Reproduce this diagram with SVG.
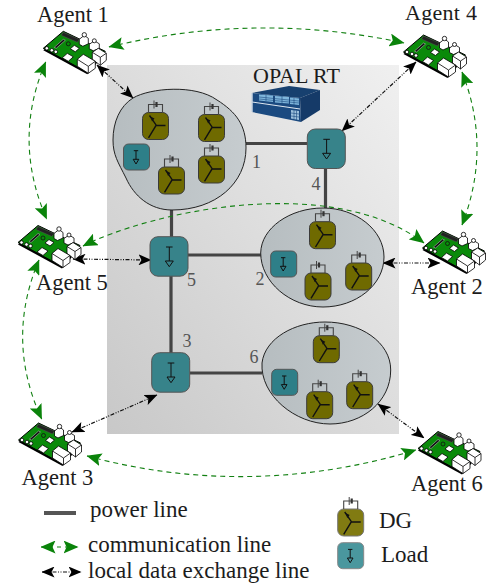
<svg xmlns="http://www.w3.org/2000/svg" xmlns:xlink="http://www.w3.org/1999/xlink" width="491" height="584" viewBox="0 0 491 584">
<style>
text{font-family:"Liberation Serif","Times New Roman",serif;fill:#1c1c1c}
.lab{font-size:22.5px}
.leg{font-size:23px}
.num{font-size:18px;fill:#555}
.pow{fill:none;stroke:#444;stroke-width:3.2}
.com{fill:none;stroke:#128012;stroke-width:1.1;stroke-dasharray:5 4;marker-start:url(#ga);marker-end:url(#ga)}
.dat{fill:none;stroke:#111;stroke-width:1.2;stroke-dasharray:4 1.5 1 1.5 1 1.5;marker-start:url(#ka);marker-end:url(#ka)}
.blob{stroke:#222;stroke-width:1;fill:url(#bg)}
.dgb{fill:#6f6a00;stroke:#3a3a3a;stroke-width:1}
.dl{fill:none;stroke:#111;stroke-width:1}
.tr{fill:none;stroke:#111;stroke-width:1.4}
.bat{fill:none;stroke:#444;stroke-width:1.1}
.lb{fill:#37838a;stroke:#555;stroke-width:1}
.w{fill:#fff;stroke:#000;stroke-width:.8;stroke-linejoin:round}
</style>
<defs>
<linearGradient id="pg" x1="0" y1="1" x2="1" y2="0"><stop offset="0" stop-color="#c8c8c8"/><stop offset="1" stop-color="#f0f0f0"/></linearGradient>
<linearGradient id="bg" x1="0" y1="0" x2="1" y2="0"><stop offset="0" stop-color="#b6bdc0"/><stop offset="1" stop-color="#c6cccf"/></linearGradient>
<marker id="ga" viewBox="0 0 15 13" refX="14.5" refY="6.5" markerWidth="15" markerHeight="13" markerUnits="userSpaceOnUse" orient="auto-start-reverse"><path d="M0,0 L15,6.500 L0,13 L3,6.500 Z" fill="#0a830a"/></marker>
<marker id="ka" viewBox="0 0 13 11" refX="12.5" refY="5.5" markerWidth="13" markerHeight="11" markerUnits="userSpaceOnUse" orient="auto-start-reverse"><path d="M0,0 L13,5.5 L0,11 L3,5.5 Z" fill="#000"/></marker>
<g id="board">
<path d="M0,0 L20,-17 L62,3 L44,24 Z" fill="#000" transform="translate(0,2)"/>
<path d="M0,0 L20,-17 L62,3 L44,24 Z" fill="#0a8a0a" stroke="#000" stroke-width="1"/>
<path d="M20,-16 L36,-9 L34,-6 L18,-13 Z" fill="#222" stroke="#555" stroke-width=".5"/>
<path d="M11,-1 L20,-9 L22,-8 L13,0 Z" fill="#111" stroke="#ccc" stroke-width=".5"/>
<path d="M27,0.5 L31,-3 L36,0 L32,3.5 Z" class="w"/>
<path d="M19,9.5 L24,5 L30,8.5 L25,13 Z" class="w"/>
<circle cx="25" cy="-4.5" r="2" fill="none" stroke="#111" stroke-width=".8"/>
<circle cx="3.5" cy="0" r="1.8" class="w"/><circle cx="8.5" cy="2" r="1.8" class="w"/><circle cx="12.5" cy="3.500" r="1.8" class="w"/>
<path d="M36,-9 L36,-4 L39.500,-2 L45,-4.500 L45,-10 L41,-13 Z" class="w"/><circle cx="41" cy="-13.500" r="2.200" class="w"/>
<path d="M46,-4 L46,0.500 L50,2.500 L56,0 L56,-4.500 L51,-7.500 Z" class="w"/><circle cx="51" cy="-7.500" r="2" class="w"/>
<path d="M49,4 L55,0 L63,5 L63,12 L57,17 L49,11 Z" class="w"/><path d="M49,4 L57,9 L63,5 M57,9 L57,17" fill="none" stroke="#000" stroke-width=".8"/>
<path d="M34,11 L40,6 L52,13 L52,20 L45,25 L34,18 Z" class="w"/><path d="M34,11 L45,18 L52,13 M45,18 L45,25" fill="none" stroke="#000" stroke-width=".8"/>
</g>
<g id="dgi">
<path d="M6,0 V-8 H20 V0" class="bat"/>
<path d="M11.500,-12 V-4" stroke="#444" stroke-width="1" fill="none"/><path d="M14,-10.500 V-5.500" stroke="#333" stroke-width="2.200" fill="none"/>
<path d="M7,3 L13.700,12.700 L6,25.300 M13.700,13 H23" class="tr"/><path d="M8,4 L12,6 L9.500,9 Z" fill="#111"/>
</g>
<rect id="dgbox" x="0" y="0" width="26" height="27" rx="6" class="dgb"/>
<g id="dg"><use href="#dgbox"/><use href="#dgi"/></g>
<g id="ls"><rect x="0" y="0" width="26" height="26" rx="5" fill="#2e7f88" stroke="#555" stroke-width="1"/><path d="M10.300,6.700 H14.700 M12.500,6.700 V15.300 M9.700,15.300 H15.300 L12.500,20 Z" class="dl"/></g>
<g id="lb"><rect x="0" y="0" width="38" height="39.500" rx="8" class="lb"/><path d="M16,10.300 H22.600 M19.300,10.300 V24.300 M15.300,24.300 H23.300 L19.300,30 Z" class="dl"/></g>
</defs>
<rect x="107" y="65" width="292" height="369" fill="url(#pg)"/>
<g id="connectors">
<path class="pow" d="M246,143.500 H307"/><path class="pow" d="M325.500,169 V208"/><path class="pow" d="M171.500,210 V237"/><path class="pow" d="M188,255 H261"/><path class="pow" d="M171,276 V353"/><path class="pow" d="M190,373 H262"/>
<path class="com" d="M109,47 Q256,11 404,43"/>
<path class="com" d="M462,72 Q492,148 462,225"/>
<path class="com" d="M45.700,62 Q12,140 46.700,219"/>
<path class="com" d="M39,260 Q5,340 41.700,419"/>
<path class="com" d="M87,456 Q250,500 416,450"/>
<path class="com" d="M83,246 C150,212 330,172 424,243"/>
<path class="dat" d="M97,65 L133,98"/>
<path class="dat" d="M416,62 L342,131"/>
<path class="dat" d="M73,259 L151,260"/>
<path class="dat" d="M383,263 L440,263"/>
<path class="dat" d="M72,432 L157,395"/>
<path class="dat" d="M378,404 L424,438"/>
</g>
<g id="cluster1"><path class="blob" d="M133,98 C150,88 195,84 217,100 C236,112 246,125 246,148 C246,183 216,210 172,210 C150,210 134,196 126,178 C118,162 113,155 113,140 C113,122 120,106 133,98 Z"/>
<use href="#dg" x="142.500" y="112.500"/><use href="#dg" x="198.500" y="114.500"/><use href="#dg" x="198.500" y="156"/><use href="#dg" x="158.500" y="167"/><use href="#ls" x="123.500" y="144"/></g>
<g id="cluster2"><path class="blob" d="M260.700,253 C261,228 290,208 323,208 C356,208 384,230 384,257 C384,285 356,307 323,307 C290,307 260.700,282 260.700,253 Z"/>
<use href="#dg" x="309.500" y="221.700"/><use href="#dg" x="345.700" y="263"/><use href="#dg" x="305" y="273"/><use href="#ls" x="270.700" y="251"/></g>
<g id="cluster6"><path class="blob" d="M262,363 C265,338 295,322 325,322 C360,322 390.700,342 390.700,370 C390.700,402 362,424 330,424 C295,424 260,395 262,363 Z"/>
<use href="#dg" x="313.300" y="335.700"/><use href="#dg" x="346.700" y="381.700"/><use href="#dg" x="306.700" y="391.700"/><use href="#ls" x="271.700" y="369.300"/></g>
<g id="node4"><use href="#lb" x="307.300" y="129"/></g>
<g id="node5"><use href="#lb" x="150" y="236.700"/></g>
<g id="node3"><use href="#lb" x="151.700" y="352.700"/></g>
<text class="num" x="252" y="168">1</text><text class="num" x="311.500" y="190">4</text><text class="num" x="187" y="286">5</text><text class="num" x="182.500" y="347">3</text><text class="num" x="255.500" y="285">2</text><text class="num" x="249.500" y="363">6</text>
<g id="opal">
<path d="M252,93 L289,86 L320,90 L300,98 Z" fill="#17406f"/>
<path d="M252,93 L300,98 L301,122 L252,112 Z" fill="#1b4a80"/>
<path d="M300,98 L320,90 L320,110 L301,122 Z" fill="#153a68"/>
<path d="M252,102 L300,109" stroke="#dfe7ef" stroke-width="1" fill="none"/>
<path d="M252,93 V112" stroke="#c9d5e2" stroke-width="1.500" fill="none"/>
<path d="M259,94.500 L273,95.500 V102 L259,100.500 Z M275,96 L289,97 V103.500 L275,102.500 Z M290,97.500 L299,98.500 V105 L290,104 Z" fill="#7fb6dc"/>
<path d="M259,97 L299,101 M259,99 L299,103 M266,94.500 V101 M282,96 V103 M294,98 V105" stroke="#1b4a80" stroke-width=".6" fill="none"/>
<path d="M291,110 L299,111 V120 L291,118.500 Z" fill="#9cc0dc"/>
<path d="M294,110 V119 M296.500,110.500 V120 M291,113 L299,114 M291,116 L299,117" stroke="#1b4a80" stroke-width=".6" fill="none"/>
<text x="253" y="83" font-size="22">OPAL RT</text>
</g>
<g id="agent1"><use href="#board" x="43.300" y="48.300"/><text class="lab" x="37" y="22">Agent 1</text></g>
<g id="agent4"><use href="#board" x="403.500" y="52"/><text x="405" y="19.800" font-size="22" textLength="72">Agent 4</text></g>
<g id="agent5"><use href="#board" x="18" y="242.500"/><text class="lab" x="36" y="290">Agent 5</text></g>
<g id="agent2"><use href="#board" x="422.500" y="248"/><text class="lab" x="411" y="294">Agent 2</text></g>
<g id="agent3"><use href="#board" x="18.500" y="440"/><text class="lab" x="21.500" y="485">Agent 3</text></g>
<g id="agent6"><use href="#board" x="418" y="448.500"/><text class="lab" x="411" y="491">Agent 6</text></g>
<g id="legend">
<path d="M44,513 H76" stroke="#555" stroke-width="4" fill="none"/>
<text class="leg" x="90" y="517">power line</text>
<path d="M41,547 H78" fill="none" stroke="#128012" stroke-width="1.100" stroke-dasharray="4 4" marker-start="url(#ga)" marker-end="url(#ga)"/>
<text class="leg" x="88" y="552">communication line</text>
<path d="M42,572 H81" class="dat"/>
<text class="leg" x="88" y="578">local data exchange line</text>
<g transform="translate(337.700,509)"><rect width="26" height="27" rx="6" fill="#817b12" stroke="#777" stroke-width="1"/><use href="#dgi"/></g>
<text class="leg" x="379" y="528">DG</text>
<g transform="translate(337.700,542.700)"><rect width="26" height="26" rx="5" fill="#4a979e" stroke="#888" stroke-width="1"/><path d="M10.300,6.700 H14.700 M12.500,6.700 V15.300 M9.700,15.300 H15.300 L12.500,20 Z" class="dl"/></g>
<text class="leg" x="381" y="562">Load</text>
</g>
</svg>
